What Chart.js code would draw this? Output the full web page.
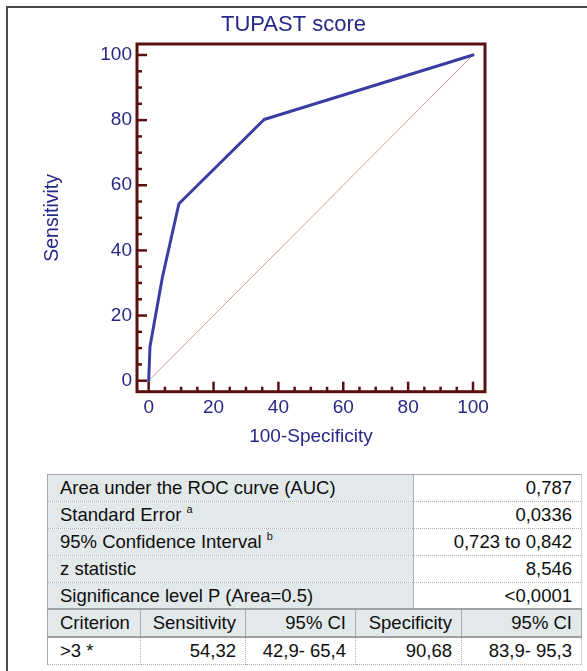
<!DOCTYPE html>
<html><head><meta charset="utf-8">
<script src="https://cdn.jsdelivr.net/npm/chart.js@4/dist/chart.umd.min.js"></script>
<style>
html,body{margin:0;padding:0;background:#fff;width:587px;height:671px;overflow:hidden;font-family:'Liberation Sans',Arial,Helvetica,sans-serif;}
#frame{position:absolute;left:6px;top:6px;width:620px;height:700px;border-top:2px solid #4a4a4a;border-left:2px solid #4a4a4a;box-sizing:border-box;}
#wrap{position:absolute;left:0;top:0;width:587px;height:460px;}
table{position:absolute;border-collapse:collapse;table-layout:fixed;font-size:18.5px;color:#0e0e0e;}
td{padding:0;height:26px;line-height:26px;white-space:nowrap;overflow:hidden;}
#stats{left:47px;top:474px;width:534px;border-top:1px solid #a8a8a8;border-left:1px solid #a8a8a8;border-right:1px solid #d0d0d0;}
#stats td{border-bottom:1px dotted #b0b0b0;}
#stats td.l{background:#e3e8ea;padding-left:12px;border-right:1px solid #b0b0b0;}
#stats td.v{background:#fff;text-align:right;padding-right:9px;}
#crit{left:47px;top:608px;width:534px;border-top:2px solid #a0a0a0;border-left:1px solid #a8a8a8;border-right:1px solid #d0d0d0;}
#crit tr.h td{background:#e3e8ea;border-bottom:2px solid #a0a0a0;border-right:1px solid #a8a8a8;}
#crit tr.b td{background:#fff;border-bottom:1px dotted #b0b0b0;border-right:1px dotted #b0b0b0;}
#crit td{text-align:right;padding-right:9px;}
#crit td.first{text-align:left;padding-left:12px;padding-right:0;}
sup{font-size:11px;line-height:0;vertical-align:8px;}
</style>
</head><body>
<div id="frame"></div>
<div id="wrap"><canvas id="c" width="587" height="460"></canvas></div>
<table id="stats"><colgroup><col style="width:366px"><col style="width:168px"></colgroup><tbody id="statsBody"></tbody></table>
<table id="crit"><colgroup><col style="width:93px"><col style="width:105px"><col style="width:110px"><col style="width:106px"><col style="width:120px"></colgroup><tbody id="critBody"></tbody></table>
<script>
// ROC curve data (100-Specificity, Sensitivity)
const fprValues  = [0, 0.4, 4.2, 9.32, 35.6, 100];
const sensValues = [0, 10.4, 31.6, 54.32, 80.2, 100];
// reference diagonal
const refX = [0, 100];
const refY = [0, 100];
// tick labels
const xTickLabels = [0, 20, 40, 60, 80, 100];
const yTickLabels = [0, 20, 40, 60, 80, 100];
const minorStep = 5;
// table content
const statLabels = ['Area under the ROC curve (AUC)', 'Standard Error', '95% Confidence Interval', 'z statistic', 'Significance level P (Area=0.5)'];
const statSup = ['', 'a', 'b', '', ''];
const statValues = ['0,787', '0,0336', '0,723 to 0,842', '8,546', '<0,0001'];
const critHeaders = ['Criterion', 'Sensitivity', '95% CI', 'Specificity', '95% CI'];
const critRow = ['>3 *', '54,32', '42,9- 65,4', '90,68', '83,9- 95,3'];

const NAVY = '#262987';
const AXIS = '#5a1010';
const FONT = "'Liberation Sans', Arial, Helvetica, sans-serif";

const framePlugin = {
  id: 'frameTicks',
  afterDatasetsDraw(chart) {
    const ctx = chart.ctx, a = chart.chartArea;
    const xs = chart.scales.x, ys = chart.scales.y;
    ctx.save();
    ctx.strokeStyle = AXIS;
    ctx.lineWidth = 2.5;
    for (let v = 0; v <= 100; v += minorStep) {
      const major = xTickLabels.includes(v);
      const len = major ? 10 : 5;
      const px = xs.getPixelForValue(v);
      ctx.beginPath(); ctx.moveTo(px, a.bottom); ctx.lineTo(px, a.bottom - len); ctx.stroke();
      const py = ys.getPixelForValue(v);
      ctx.beginPath(); ctx.moveTo(a.left, py); ctx.lineTo(a.left + len, py); ctx.stroke();
    }
    ctx.lineWidth = 3;
    ctx.strokeRect(a.left, a.top, a.right - a.left, a.bottom - a.top);
    ctx.restore();
  }
};

new Chart(document.getElementById('c'), {
  type: 'scatter',
  data: {
    datasets: [
      {
        data: refX.map((x, i) => ({x, y: refY[i]})),
        showLine: true, borderColor: '#d89c8e', borderWidth: 1, pointRadius: 0, order: 2
      },
      {
        data: fprValues.map((x, i) => ({x, y: sensValues[i]})),
        showLine: true, borderColor: '#3a3da3', borderWidth: 3, pointRadius: 0,
        borderJoinStyle: 'round', borderCapStyle: 'round', order: 1
      }
    ]
  },
  options: {
    responsive: false, animation: false, devicePixelRatio: 1,
    layout: {padding: 0},
    plugins: {
      legend: {display: false}, tooltip: {enabled: false},
      title: {display: true, text: 'TUPAST score', color: NAVY,
        font: {family: FONT, size: 22, weight: 'normal'}, padding: {top: 12, bottom: 5.6}}
    },
    scales: {
      x: {
        type: 'linear', min: -3.6, max: 103.7,
        grid: {display: false, drawTicks: false}, border: {display: false},
        afterBuildTicks: s => { s.ticks = xTickLabels.map(v => ({value: v})); },
        afterFit: s => { s.height = 68.3; },
        ticks: {color: NAVY, font: {family: FONT, size: 19}, padding: 5, maxRotation: 0, autoSkip: false},
        title: {display: true, text: '100-Specificity', color: NAVY, font: {family: FONT, size: 19}, padding: {top: 0, bottom: 11.5}}
      },
      y: {
        type: 'linear', min: -3.38, max: 103.37,
        grid: {display: false, drawTicks: false}, border: {display: false},
        afterBuildTicks: s => { s.ticks = yTickLabels.map(v => ({value: v})); },
        afterFit: s => { s.width = 137; },
        ticks: {color: NAVY, font: {family: FONT, size: 19}, padding: 5, autoSkip: false},
        title: {display: true, text: 'Sensitivity', color: NAVY, font: {family: FONT, size: 19.5}, padding: {top: 41, bottom: 0}}
      },
      y2: {
        type: 'linear', position: 'right', axis: 'y',
        grid: {display: false, drawTicks: false}, border: {display: false},
        ticks: {display: false},
        afterFit: s => { s.width = 102; }
      }
    }
  },
  plugins: [framePlugin]
});

// tables
const sb = document.getElementById('statsBody');
statLabels.forEach((lab, i) => {
  const tr = document.createElement('tr');
  const l = document.createElement('td'); l.className = 'l';
  l.textContent = lab;
  if (statSup[i]) { l.append(' '); const s = document.createElement('sup'); s.textContent = statSup[i]; l.appendChild(s); }
  const v = document.createElement('td'); v.className = 'v'; v.textContent = statValues[i];
  tr.append(l, v); sb.appendChild(tr);
});
const cb = document.getElementById('critBody');
[critHeaders, critRow].forEach((row, r) => {
  const tr = document.createElement('tr'); tr.className = r === 0 ? 'h' : 'b';
  row.forEach((t, i) => {
    const td = document.createElement('td'); if (i === 0) td.className = 'first';
    td.textContent = t; tr.appendChild(td);
  });
  cb.appendChild(tr);
});
</script>
</body></html>
